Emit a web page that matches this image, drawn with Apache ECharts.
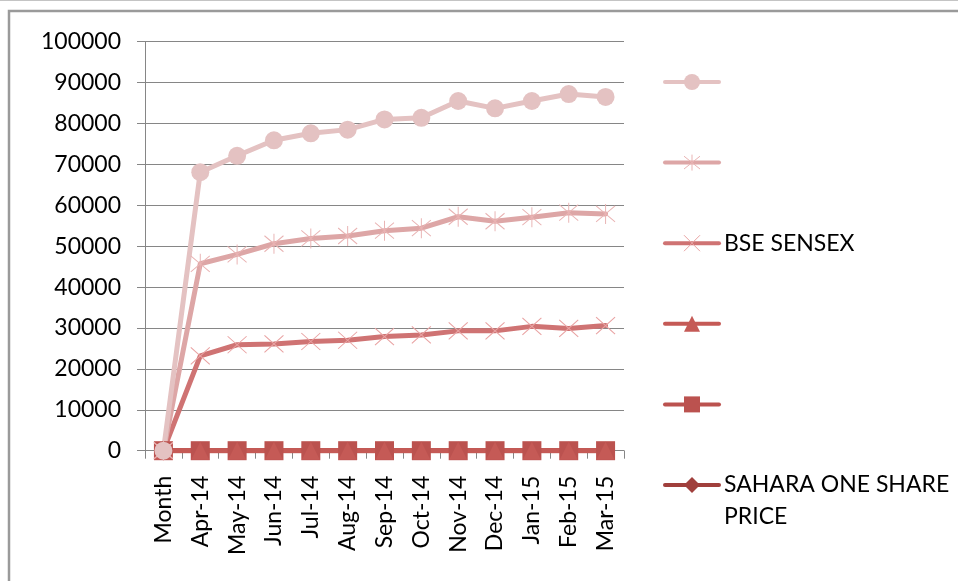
<!DOCTYPE html>
<html>
<head>
<meta charset="utf-8">
<script src="https://cdn.jsdelivr.net/npm/echarts@6/dist/echarts.min.js"></script>
<style>
html,body{margin:0;padding:0;background:#fff;}
#chart{width:958px;height:581px;}
</style>
</head>
<body>
<div id="chart"></div>
<script>
// ---- data ----
var categories = ['Month','Apr-14','May-14','Jun-14','Jul-14','Aug-14','Sep-14','Oct-14','Nov-14','Dec-14','Jan-15','Feb-15','Mar-15'];
var yTicks = [0,10000,20000,30000,40000,50000,60000,70000,80000,90000,100000];
// stacked series, bottom to top
var saharaOneSharePrice = [0,0,0,0,0,0,0,0,0,0,0,0,0];
var squareSeries        = [0,0,0,0,0,0,0,0,0,0,0,0,0];
var triangleSeries      = [0,0,0,0,0,0,0,0,0,0,0,0,0];
var bseSensex           = [0,23200,25900,26100,26700,27000,27900,28300,29300,29300,30400,29900,30600];
var starSeries          = [0,22500,22100,24500,25200,25500,25900,26100,27900,26800,26700,28300,27300];
var circleSeries        = [0,22400,24100,25300,25700,26000,27200,27000,28300,27600,28400,29000,28600];

var names = {
  circle: ' ',
  star: '  ',
  bse: 'BSE SENSEX',
  triangle: '   ',
  square: '    ',
  sahara: 'SAHARA ONE SHARE PRICE'
};

var FONT = 'Lato';
var chart = echarts.init(document.getElementById('chart'), null, {renderer: 'canvas'});

function lineSeries(name, data, lineColor, symbol, symSize, itemStyle) {
  return {
    name: name,
    type: 'line',
    stack: 'total',
    data: data,
    symbol: symbol,
    symbolSize: symSize,
    showAllSymbol: true,
    lineStyle: {color: lineColor, width: 5, cap: 'round', join: 'round'},
    itemStyle: itemStyle,
    emphasis: {disabled: true},
    animation: false
  };
}

var xPath = 'path://M0 0L20 20M20 0L0 20';
var starPath = 'path://M0 2L20 18M20 2L0 18M10 0L10 20';

var option = {
  animation: false,
  backgroundColor: '#fff',
  textStyle: {fontFamily: FONT},
  graphic: [
    {type: 'line', shape: {x1: 0, y1: 0.5, x2: 958, y2: 0.5}, style: {stroke: '#c4c4c4', lineWidth: 1}, silent: true},
    {type: 'rect', shape: {x: 9, y: 11, width: 1000, height: 700}, style: {fill: 'none', stroke: '#9a9a9a', lineWidth: 2.5}, silent: true}
  ],
  grid: {left: 145, top: 41.7, width: 479, height: 409, containLabel: false},
  xAxis: {
    type: 'category',
    data: categories,
    boundaryGap: true,
    axisLine: {show: true, lineStyle: {color: '#868686', width: 1}},
    axisTick: {show: true, alignWithLabel: false, length: 8, lineStyle: {color: '#868686'}},
    axisLabel: {rotate: 90, margin: 25, color: '#000', fontFamily: FONT, fontSize: 23, interval: 0},
    splitLine: {show: false}
  },
  yAxis: {
    type: 'value',
    min: yTicks[0],
    max: yTicks[yTicks.length - 1],
    interval: yTicks[1] - yTicks[0],
    axisLine: {show: true, lineStyle: {color: '#868686', width: 1}},
    axisTick: {show: true, length: 8, lineStyle: {color: '#868686'}},
    axisLabel: {margin: 24, color: '#000', fontFamily: FONT, fontSize: 23, formatter: function (v) { return String(v); }},
    splitLine: {show: true, lineStyle: {color: '#868686', width: 1}}
  },
  legend: [
    {
      orient: 'vertical',
      left: 663,
      top: 70,
      padding: 0,
      itemWidth: 54,
      itemHeight: 20,
      itemGap: 56.6,
      data: [names.circle, names.star, names.bse, names.triangle, names.square],
      textStyle: {fontFamily: FONT, fontSize: 23, color: '#000', lineHeight: 24},
      lineStyle: {width: 4, cap: 'round'},
      itemStyle: {borderWidth: 1},
      selectedMode: false
    },
    {
      orient: 'vertical',
      left: 663,
      top: 437,
      padding: 0,
      itemWidth: 54,
      itemHeight: 20,
      data: [names.sahara],
      formatter: function () { return '\nSAHARA ONE SHARE\nPRICE'; },
      textStyle: {fontFamily: FONT, fontSize: 23, color: '#000', lineHeight: 32},
      lineStyle: {width: 4, cap: 'round'},
      selectedMode: false
    }
  ],
  series: [
    lineSeries(names.sahara, saharaOneSharePrice, '#A03F3C', 'diamond', 18, {color: '#A03F3C'}),
    lineSeries(names.square, squareSeries, '#BB524F', 'rect', 19, {color: '#BB524F'}),
    lineSeries(names.triangle, triangleSeries, '#C55A56', 'triangle', 18, {color: '#C55A56'}),
    lineSeries(names.bse, bseSensex, '#CF7373', xPath, [19, 17], {color: '#CF7373', borderColor: '#E9A3A3', borderWidth: 1}),
    lineSeries(names.star, starSeries, '#DDA6A6', starPath, [19, 20], {color: '#DDA6A6', borderColor: '#E9B3B3', borderWidth: 1}),
    lineSeries(names.circle, circleSeries, '#E4C2C2', 'circle', 18, {color: '#E4C2C2'})
  ]
};
chart.setOption(option);
</script>
</body>
</html>
